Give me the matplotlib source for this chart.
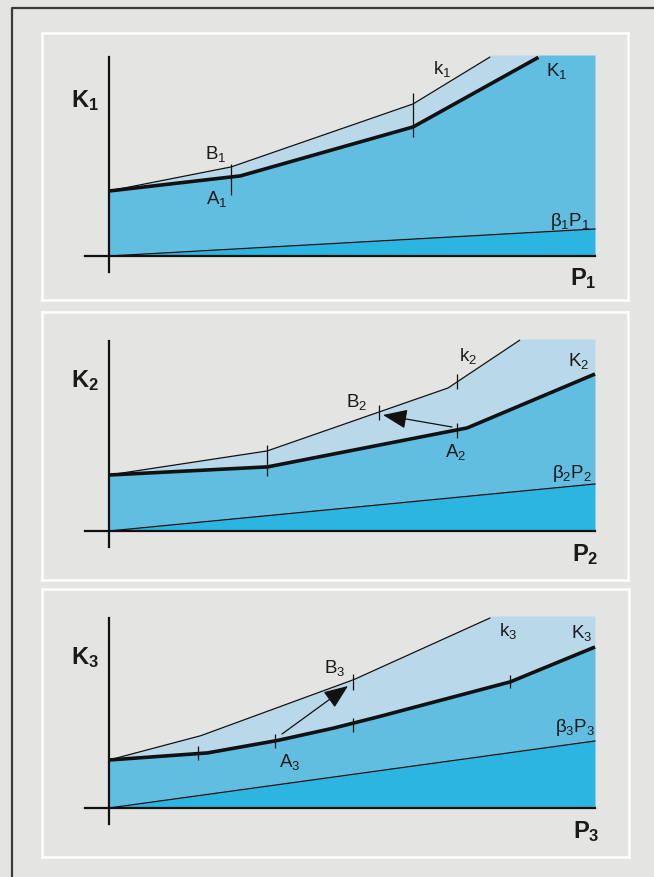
import numpy as np
import matplotlib
matplotlib.use('Agg')
import matplotlib.pyplot as plt

plt.rcParams['font.family'] = ['Liberation Sans', 'DejaVu Sans']
plt.rcParams['mathtext.fontset'] = 'custom'
plt.rcParams['mathtext.rm'] = 'Liberation Sans'
plt.rcParams['mathtext.it'] = 'Liberation Sans'
plt.rcParams['mathtext.bf'] = 'Liberation Sans:bold'

# dados (P na horizontal, K na vertical, origem no cruzamento dos eixos)
P_max = 486
topo = [201, 192, 192]

# painel 1
K1_P = [0, 131, 304, 430]
K1_K = [65, 80, 129, 199]
k1_P = [0, 122, 304, 381]
k1_K = [65, 89, 152, 199]
beta1 = 27
marcas1_P = [122, 304]
marcas1_ini = [61, 119]
marcas1_fim = [92, 163]

# painel 2
K2_P = [0, 158, 358, 486]
K2_K = [56, 64, 103, 157]
k2_P = [0, 158, 339, 411]
k2_K = [56, 80, 143, 191]
beta2 = 47
marcas2_P = [158, 348, 348, 270]
marcas2_ini = [55, 93, 142, 111]
marcas2_fim = [86, 108, 157, 126]
seta2 = ((343, 104), (274, 116))   # A2 -> B2

# painel 3
K3_P = [0, 98, 166, 221, 261, 401, 486]
K3_K = [48, 55, 67, 79, 89, 126, 161]
k3_P = [0, 91, 244, 381]
k3_K = [48, 72, 128, 190]
beta3 = 67
marcas3_P = [89, 166, 244, 401, 244]
marcas3_ini = [48, 60, 76, 120, 118]
marcas3_fim = [62, 74, 90, 133, 134]
seta3 = ((173, 74), (239, 122))    # A3 -> B3

# rótulos: (texto, P, K, tamanho)
rotulos1 = [(r'$\mathbf{K}_{\mathbf{1}}$', -24, 155, 17),
            (r'$\mathbf{P}_{\mathbf{1}}$', 474, -23, 17),
            (r'$\mathrm{B}_1$', 107, 102, 13.5),
            (r'$\mathrm{A}_1$', 108, 57, 13.5),
            (r'$\mathrm{k}_1$', 333, 187, 13.5),
            (r'$\mathrm{K}_1$', 448, 185, 13.5),
            (r'$\beta_1\mathrm{P}_1$', 461, 35, 13.5)]
rotulos2 = [(r'$\mathbf{K}_{\mathbf{2}}$', -24, 150, 17),
            (r'$\mathbf{P}_{\mathbf{2}}$', 476, -24, 17),
            (r'$\mathrm{B}_2$', 248, 129, 13.5),
            (r'$\mathrm{A}_2$', 347, 79, 13.5),
            (r'$\mathrm{k}_2$', 359, 175, 13.5),
            (r'$\mathrm{K}_2$', 470, 170, 13.5),
            (r'$\beta_2\mathrm{P}_2$', 463, 57, 13.5)]
rotulos3 = [(r'$\mathbf{K}_{\mathbf{3}}$', -24, 150, 17),
            (r'$\mathbf{P}_{\mathbf{3}}$', 477, -24, 17),
            (r'$\mathrm{B}_3$', 226, 140, 13.5),
            (r'$\mathrm{A}_3$', 181, 46, 13.5),
            (r'$\mathrm{k}_3$', 399, 177, 13.5),
            (r'$\mathrm{K}_3$', 473, 175, 13.5),
            (r'$\beta_3\mathrm{P}_3$', 466, 80, 13.5)]

# cores
cinza = '#e4e4e2'
azul_claro = '#b9d9ea'
azul_medio = '#62bee1'
azul_escuro = '#2bb5e0'
preto = '#111111'

W, H = 654, 877
fig = plt.figure(figsize=(W / 100, H / 100), dpi=100, facecolor=cinza)

# moldura externa
fundo = fig.add_axes([0, 0, 1, 1])
fundo.set_xlim(0, W)
fundo.set_ylim(H, 0)
fundo.axis('off')
fundo.plot([12, 12, W], [H, 8, 8], color='#3a3a3a', lw=1.6)

caixas = [(42, 33, 628, 300), (42, 312, 628, 580), (42, 589, 629, 857)]
origens = [(109, 256), (109, 531), (109, 808)]

paineis = [
    (K1_P, K1_K, k1_P, k1_K, beta1, marcas1_P, marcas1_ini, marcas1_fim, None, rotulos1),
    (K2_P, K2_K, k2_P, k2_K, beta2, marcas2_P, marcas2_ini, marcas2_fim, seta2, rotulos2),
    (K3_P, K3_K, k3_P, k3_K, beta3, marcas3_P, marcas3_ini, marcas3_fim, seta3, rotulos3),
]

for i, (KP, KK, kP, kK, beta, mP, mi, mf, seta, rotulos) in enumerate(paineis):
    x0, y0, x1, y1 = caixas[i]
    ox, oy = origens[i]
    ax = fig.add_axes([x0 / W, 1 - y1 / H, (x1 - x0) / W, (y1 - y0) / H])
    ax.set_xlim(x0 - ox, x1 - ox)
    ax.set_ylim(oy - y1, oy - y0)
    ax.set_facecolor(cinza)
    ax.set_xticks([])
    ax.set_yticks([])
    for s in ax.spines.values():
        s.set_color('white')
        s.set_linewidth(1.8)

    t = topo[i]
    P = np.linspace(0, P_max, 800)
    K_curva = np.minimum(np.interp(P, KP, KK, right=t), t)
    k_curva = np.minimum(np.interp(P, kP, kK, right=t), t)
    beta_reta = np.interp(P, [0, P_max], [0, beta])

    ax.fill_between(P, K_curva, k_curva, color=azul_claro, lw=0)
    ax.fill_between(P, beta_reta, K_curva, color=azul_medio, lw=0)
    ax.fill_between(P, 0, beta_reta, color=azul_escuro, lw=0)

    # curvas
    ax.plot(P[k_curva < t - 0.5], k_curva[k_curva < t - 0.5], color=preto, lw=0.9)
    ax.plot(P[K_curva < t - 0.5], K_curva[K_curva < t - 0.5], color=preto, lw=2.6,
            solid_capstyle='butt', solid_joinstyle='round')
    ax.plot([0, P_max], [0, beta], color=preto, lw=0.9)

    # eixos
    ax.plot([0, 0], [-16, t - 2], color=preto, lw=1.6)
    ax.plot([-24, P_max], [0, 0], color=preto, lw=1.6)

    # marcas
    ax.vlines(mP, mi, mf, color=preto, lw=0.9)

    if seta is not None:
        ax.annotate('', xy=seta[1], xytext=seta[0],
                    arrowprops=dict(arrowstyle='-|>,head_length=1.0,head_width=0.4',
                                    mutation_scale=15, color=preto, lw=0.9,
                                    shrinkA=0, shrinkB=0))

    for texto, px, py, tam in rotulos:
        ax.text(px, py, texto, fontsize=tam, color='#1a1a1a', ha='center', va='center')

fig.savefig('out.png', dpi=100, facecolor=cinza)
